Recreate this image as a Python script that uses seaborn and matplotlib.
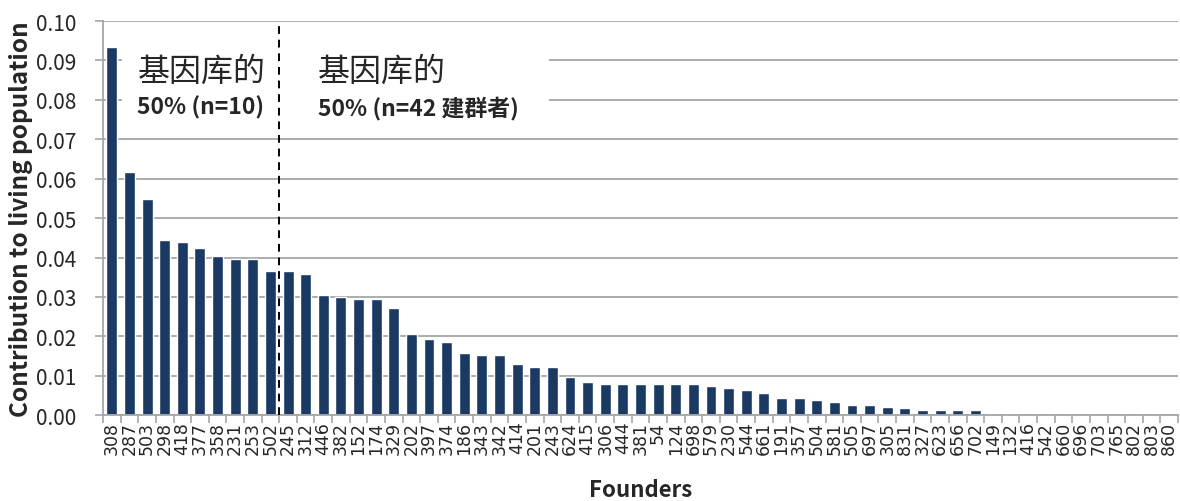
import numpy as np
import pandas as pd
import matplotlib
matplotlib.use("Agg")
import matplotlib.pyplot as plt
from matplotlib.patches import Rectangle
from matplotlib.ticker import MultipleLocator
import seaborn as sns

founders = ["308", "287", "503", "298", "418", "377", "358", "231", "253", "502",
            "245", "312", "446", "382", "152", "174", "329", "202", "397", "374",
            "186", "343", "342", "414", "201", "243", "624", "415", "306", "444",
            "381", "54", "124", "698", "579", "230", "544", "661", "191", "357",
            "504", "581", "505", "697", "305", "831", "327", "623", "656", "702",
            "149", "132", "416", "542", "660", "696", "703", "765", "802", "803",
            "860"]
contribution = [0.0935, 0.0617, 0.0549, 0.0445, 0.0440, 0.0423, 0.0405, 0.0397, 0.0397, 0.0366,
                0.0366, 0.0358, 0.0305, 0.0299, 0.0296, 0.0296, 0.0273, 0.0207, 0.0193, 0.0185,
                0.0158, 0.0153, 0.0153, 0.0131, 0.0123, 0.0123, 0.0098, 0.0083, 0.0079, 0.0079,
                0.0079, 0.0079, 0.0079, 0.0079, 0.0074, 0.0069, 0.0065, 0.0057, 0.0043, 0.0043,
                0.0039, 0.0034, 0.0026, 0.0026, 0.0021, 0.0017, 0.0013, 0.0013, 0.0013, 0.0013,
                0.0004, 0.0004, 0.0, 0.0, 0.0, 0.0, 0.0, 0.0, 0.0, 0.0,
                0.0]
split_after = 10  # the first 10 founders hold 50% of the gene pool

sns.set_style("white")
plt.rcParams['font.family'] = ['Noto Sans CJK SC', 'DejaVu Sans']

df = pd.DataFrame({"founder": founders, "contribution": contribution})

fig = plt.figure(figsize=(11.8, 5.02), dpi=100)
ax = fig.add_axes([0.0873, 0.171, 0.911, 0.785])

grid_c = "#a6a6a6"
ax.set_axisbelow(True)
ax.yaxis.grid(True, color=grid_c, linewidth=1.3)

sns.barplot(data=df, x="founder", y="contribution", color="#1b3a63",
            saturation=1, width=0.62, errorbar=None, ax=ax, zorder=2)

# white panel behind the annotation text hides the gridlines there
ax.add_patch(Rectangle((0.6, 0.0722), 24.2, 0.0255, facecolor="white",
                       edgecolor="none", zorder=1.5))

ax.axvline(split_after - 0.5, color="black", linestyle=(0, (4, 3)),
           linewidth=1.4, zorder=3)

ax.text(1.45, 0.0873, "基因库的", fontsize=23, va="center", ha="left", zorder=4)
ax.text(1.45, 0.0782, "50% (n=10)", fontsize=16.5, fontweight="bold",
        va="center", ha="left", zorder=4)
ax.text(11.7, 0.0873, "基因库的", fontsize=23, va="center", ha="left", zorder=4)
ax.text(11.7, 0.0782, "50% (n=42 建群者)", fontsize=16.5, fontweight="bold",
        va="center", ha="left", zorder=4)

ax.set_xlim(-0.5, len(founders) - 0.5)
ax.set_ylim(0, 0.10)
ax.yaxis.set_major_locator(MultipleLocator(0.01))
ax.yaxis.set_major_formatter(matplotlib.ticker.FormatStrFormatter("%.2f"))

for s in ["top", "right"]:
    ax.spines[s].set_visible(False)
for s in ["left", "bottom"]:
    ax.spines[s].set_color(grid_c)
    ax.spines[s].set_linewidth(1.3)

ax.set_xticks(np.arange(len(founders)))
ax.set_xticklabels(founders, rotation=90, fontsize=12.5, family="DejaVu Sans")
ax.set_xticks(np.arange(len(founders) + 1) - 0.5, minor=True)
ax.tick_params(axis="x", which="major", length=0, pad=4)
ax.tick_params(axis="x", which="minor", length=6, color=grid_c, width=1.2,
               direction="out", bottom=True)
ax.tick_params(axis="y", which="major", length=6, color=grid_c, width=1.2,
               direction="out", left=True, labelsize=15, pad=13)

ax.set_xlabel("Founders", fontsize=16, fontweight="bold", labelpad=17)
ax.set_ylabel("Contribution to living population", fontsize=17.5,
              fontweight="bold", labelpad=2)

fig.savefig("out.png", dpi=100)
